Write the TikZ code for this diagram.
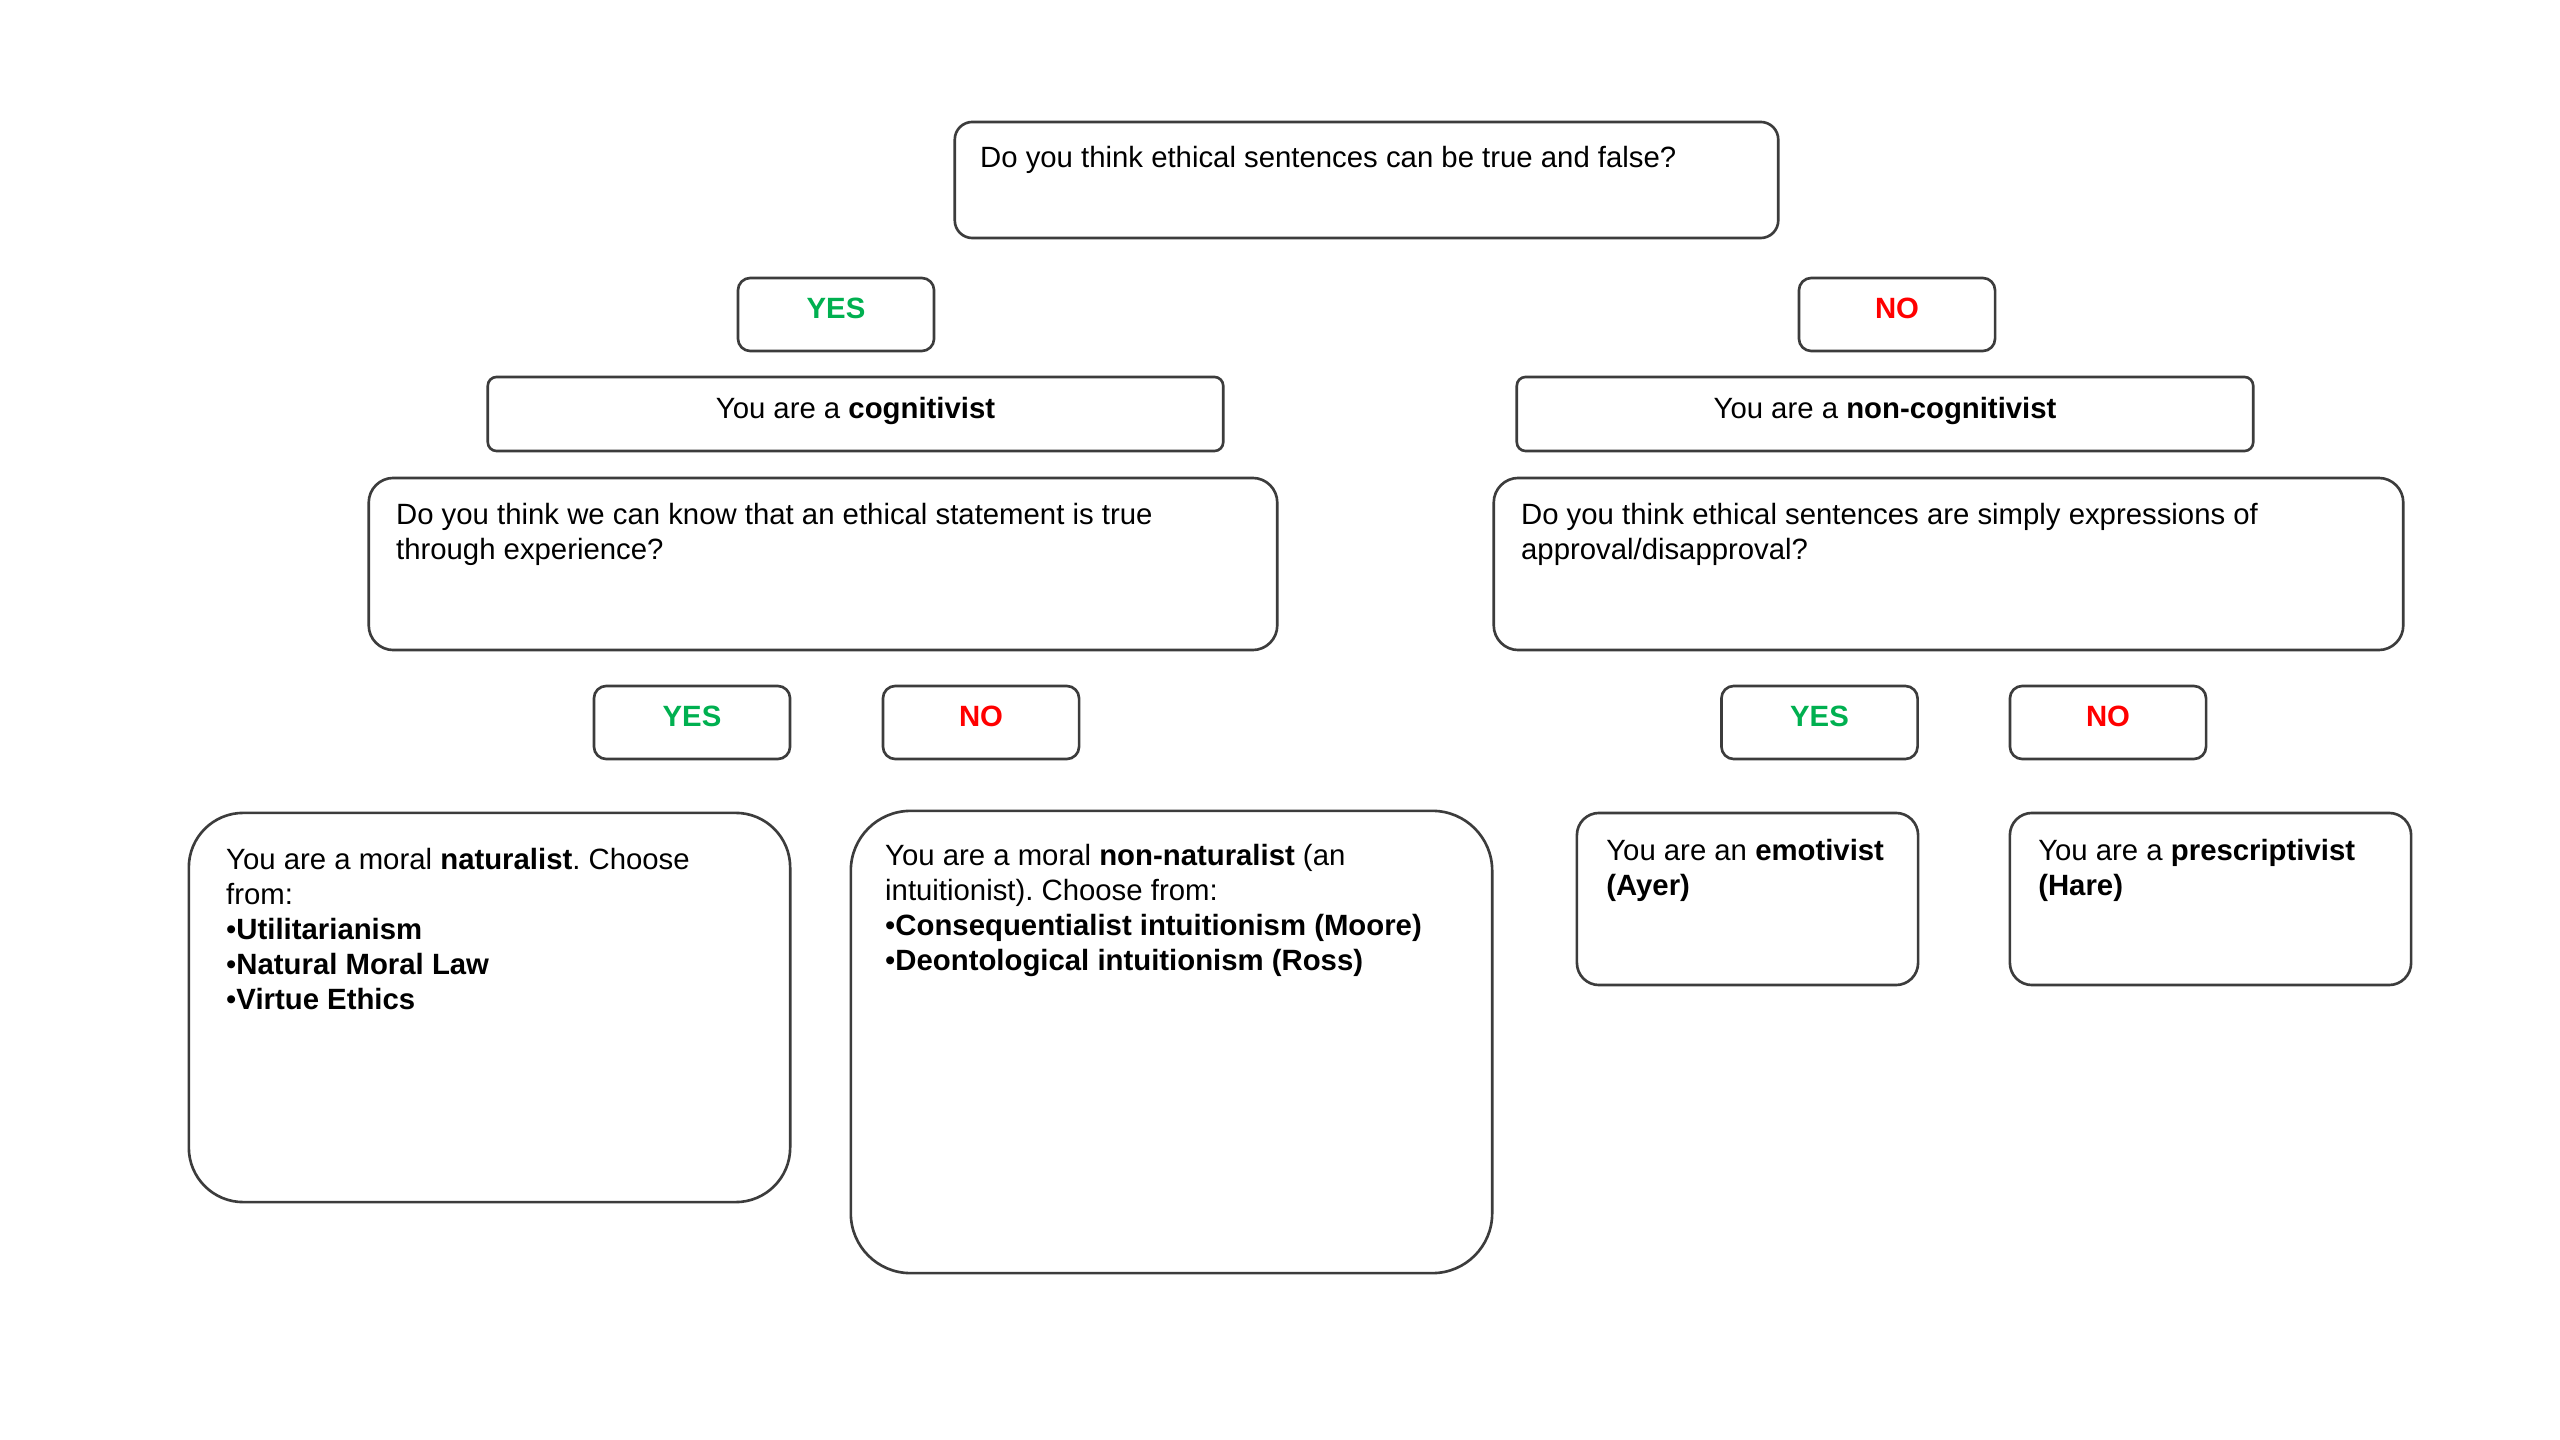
\documentclass[tikz,border=0pt]{standalone}
\usepackage{fontspec}
\setmainfont{Liberation Sans}
\definecolor{yesgreen}{RGB}{0,176,80}
\definecolor{nored}{RGB}{255,0,0}
\definecolor{edgegray}{RGB}{60,60,60}
\frenchspacing
\begin{document}
\begin{tikzpicture}[x=0.01cm,y=-0.01cm,
  font=\fontsize{8.34pt}{9.96pt}\selectfont\frenchspacing,
  box/.style={draw=edgegray, line width=0.75pt, inner sep=0pt},
  txt/.style={anchor=north west, align=left, inner sep=0pt},
  ctext/.style={anchor=base, inner sep=0pt},
  yeslbl/.style={ctext, text=yesgreen, font=\fontsize{8.34pt}{9.96pt}\selectfont\bfseries},
  nolbl/.style={ctext, text=nored, font=\fontsize{8.34pt}{9.96pt}\selectfont\bfseries},
  smallbtn/.style={box, rounded corners=3.5pt, minimum width=1.96cm, minimum height=0.73cm}
]
\useasboundingbox[fill=white] (0,0) rectangle (2560,1440);

% top question
\node[box, rounded corners=5pt, minimum width=8.23cm, minimum height=1.16cm] (top) at (1366.5,180) {};
\node[txt] (toptxt) at ([shift={(26,25)}]top.north west) {Do you think ethical sentences can be true and false?};

% first YES / NO
\node[smallbtn] (yes1) at (836,314.5) {};
\node[yeslbl] (yes1t) at ([yshift=-0.04cm]yes1.center) {YES};
\node[smallbtn] (no1) at (1897,314.5) {};
\node[nolbl] (no1t) at ([yshift=-0.04cm]no1.center) {NO};

% cognitivist / non-cognitivist
\node[box, rounded corners=2.5pt, minimum width=7.35cm, minimum height=0.74cm] (cog) at (855.5,414) {};
\node[ctext] (cogt) at ([yshift=-0.05cm]cog.center) {You are a \textbf{cognitivist}};
\node[box, rounded corners=2.5pt, minimum width=7.36cm, minimum height=0.74cm] (ncog) at (1885,414) {};
\node[ctext] (ncogt) at ([yshift=-0.05cm]ncog.center) {You are a \textbf{non-cognitivist}};

% second-level questions
\node[box, rounded corners=7pt, minimum width=9.08cm, minimum height=1.72cm] (q2l) at (823,564) {};
\node[txt] (q2lt) at ([shift={(28,26)}]q2l.north west) {Do you think we can know that an ethical statement is true\\through experience?};
\node[box, rounded corners=7pt, minimum width=9.09cm, minimum height=1.72cm] (q2r) at (1948.5,564) {};
\node[txt] (q2rt) at ([shift={(28,26)}]q2r.north west) {Do you think ethical sentences are simply expressions of\\approval/disapproval?};

% second YES / NO rows
\node[smallbtn] (yes2) at (692,722.5) {};
\node[yeslbl] (yes2t) at ([yshift=-0.04cm]yes2.center) {YES};
\node[smallbtn] (no2) at (981,722.5) {};
\node[nolbl] (no2t) at ([yshift=-0.04cm]no2.center) {NO};
\node[smallbtn] (yes3) at (1819.5,722.5) {};
\node[yeslbl] (yes3t) at ([yshift=-0.04cm]yes3.center) {YES};
\node[smallbtn] (no3) at (2108,722.5) {};
\node[nolbl] (no3t) at ([yshift=-0.04cm]no3.center) {NO};

% outcome boxes
\node[box, rounded corners=15.5pt, minimum width=6.01cm, minimum height=3.89cm] (nat) at (489.5,1007.5) {};
\node[txt] (natt) at ([shift={(38,36)}]nat.north west) {You are a moral \textbf{naturalist}. Choose\\from:\\\textbullet\textbf{Utilitarianism}\\\textbullet\textbf{Natural Moral Law}\\\textbullet\textbf{Virtue Ethics}};

\node[box, rounded corners=17pt, minimum width=6.41cm, minimum height=4.62cm] (nnat) at (1171.5,1042) {};
\node[txt] (nnatt) at ([shift={(35,34)}]nnat.north west) {You are a moral \textbf{non-naturalist} (an\\intuitionist). Choose from:\\\textbullet\textbf{Consequentialist intuitionism (Moore)}\\\textbullet\textbf{Deontological intuitionism (Ross)}};

\node[box, rounded corners=6.3pt, minimum width=3.41cm, minimum height=1.72cm] (emo) at (1747.5,899) {};
\node[txt] (emot) at ([shift={(30,27)}]emo.north west) {You are an \textbf{emotivist}\\\textbf{(Ayer)}};

\node[box, rounded corners=6.3pt, minimum width=4.01cm, minimum height=1.72cm] (pres) at (2210.5,899) {};
\node[txt] (prest) at ([shift={(29,27)}]pres.north west) {You are a \textbf{prescriptivist}\\\textbf{(Hare)}};
\end{tikzpicture}
\end{document}
